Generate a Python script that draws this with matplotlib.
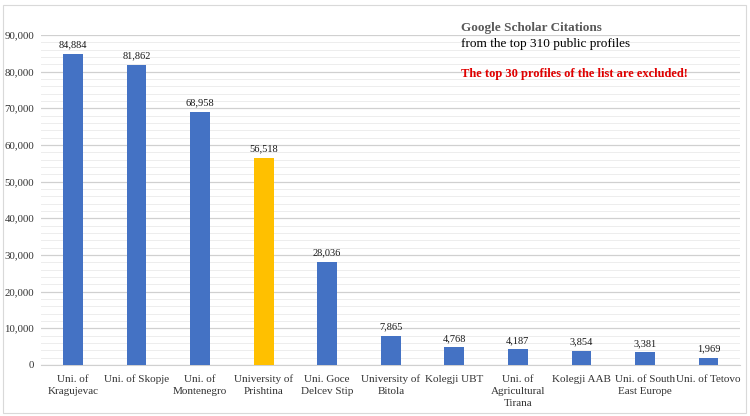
import matplotlib.pyplot as plt
from matplotlib.patches import Rectangle
from matplotlib.ticker import MultipleLocator, FuncFormatter

# Dados
universidades = ['Uni. of\nKragujevac', 'Uni. of Skopje', 'Uni. of\nMontenegro',
                 'University of\nPrishtina', 'Uni. Goce\nDelcev Stip', 'University of\nBitola',
                 'Kolegji UBT', 'Uni. of\nAgricultural\nTirana', 'Kolegji AAB',
                 'Uni. of South\nEast Europe', 'Uni. of Tetovo']
citacoes = [84884, 81862, 68958, 56518, 28036, 7865, 4768, 4187, 3854, 3381, 1969]
destaque = 'University of\nPrishtina'

azul = '#4472C4'
amarelo = '#FFC000'
cores = [amarelo if u == destaque else azul for u in universidades]

plt.rcParams['font.family'] = ['Liberation Serif', 'DejaVu Serif']

fig = plt.figure(figsize=(7.5, 4.16), dpi=100)
ax = fig.add_axes([0.055, 0.123, 0.932, 0.793])

x = range(len(universidades))
ax.bar(x, citacoes, color=cores, width=0.31, zorder=3)

for i, v in enumerate(citacoes):
    ax.text(i, v + 1200, f"{v:,}", ha='center', va='bottom', fontsize=7.5, color='#1a1a1a')

ax.set_xlim(-0.5, len(universidades) - 0.5)
ax.set_ylim(0, 90000)
ax.yaxis.set_major_locator(MultipleLocator(10000))
ax.yaxis.set_minor_locator(MultipleLocator(2000))
ax.yaxis.set_major_formatter(FuncFormatter(lambda v, p: f"{int(v):,}"))
ax.grid(True, axis='y', which='major', color='#d0d0d0', linewidth=0.9, zorder=0)
ax.grid(True, axis='y', which='minor', color='#ededed', linewidth=0.7, zorder=0)
ax.set_xticks(list(x))
ax.set_xticklabels(universidades, fontsize=8, color='#333333', linespacing=1.45)
ax.tick_params(axis='y', labelsize=7.8, colors='#333333', length=0, which='both', pad=5)
ax.tick_params(axis='x', length=0, pad=7)
for lado in ['top', 'right', 'left']:
    ax.spines[lado].set_visible(False)
ax.spines['bottom'].set_color('#d0d0d0')

# Textos
fig.text(0.615, 0.925, 'Google Scholar Citations', fontsize=9.5, fontweight='bold', color='#595959')
fig.text(0.615, 0.887, 'from the top 310 public profiles', fontsize=9.5, color='black')
fig.text(0.615, 0.815, 'The top 30 profiles of the list are excluded!', fontsize=9,
         fontweight='bold', color='#E00000')

# Borda do gráfico
fig.patches.append(Rectangle((0.004, 0.007), 0.99, 0.98, transform=fig.transFigure,
                             fill=False, edgecolor='#d9d9d9', linewidth=0.8))

fig.savefig('out.png', dpi=100)
